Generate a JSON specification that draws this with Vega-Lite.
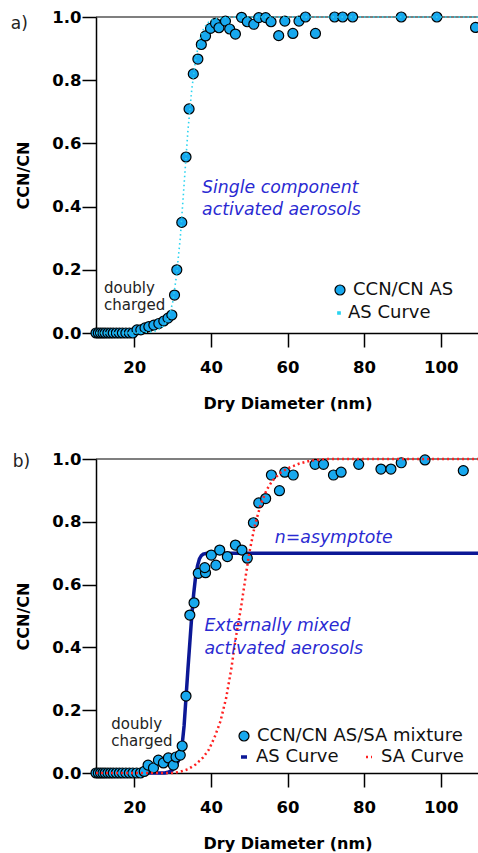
{
  "$schema": "https://vega.github.io/schema/vega-lite/v6.json",
  "background": "white",
  "padding": {"left": 10, "top": 9, "right": 0, "bottom": 0},
  "spacing": 126,
  "bounds": "flush",
  "resolve": {
    "scale": {"fill": "independent", "stroke": "independent"},
    "legend": {"fill": "independent", "stroke": "independent"}
  },
  "config": {
    "view": {"stroke": null},
    "font": "DejaVu Sans",
    "axis": {
      "grid": false,
      "labelFont": "DejaVu Sans",
      "labelFontSize": 16.5,
      "labelFontWeight": "bold",
      "labelColor": "#000",
      "titleFont": "DejaVu Sans",
      "titleFontSize": 16,
      "titleFontWeight": "bold",
      "titleColor": "#000",
      "domainColor": "#000",
      "domainWidth": 1.5,
      "tickColor": "#000",
      "tickWidth": 1.5,
      "tickSize": 14
    },
    "legend": {
      "orient": "none",
      "title": null,
      "padding": 0,
      "labelFont": "DejaVu Sans",
      "labelFontSize": 18,
      "labelColor": "#111",
      "labelLimit": 400
    }
  },
  "datasets": {
    "pointsA": [
      {"diam": 10, "ratio": 0}, {"diam": 10.6, "ratio": 0}, {"diam": 11.2, "ratio": 0}, {"diam": 11.8, "ratio": 0},
      {"diam": 12.4, "ratio": 0}, {"diam": 13.1, "ratio": 0}, {"diam": 13.8, "ratio": 0}, {"diam": 14.5, "ratio": 0},
      {"diam": 15.3, "ratio": 0}, {"diam": 16.1, "ratio": 0}, {"diam": 16.9, "ratio": 0}, {"diam": 17.8, "ratio": 0},
      {"diam": 18.7, "ratio": 0}, {"diam": 19.6, "ratio": 0}, {"diam": 20.7, "ratio": 0.01}, {"diam": 21.7, "ratio": 0.01},
      {"diam": 22.8, "ratio": 0.016}, {"diam": 23.8, "ratio": 0.02}, {"diam": 25.1, "ratio": 0.025}, {"diam": 26.4, "ratio": 0.03},
      {"diam": 27.7, "ratio": 0.038}, {"diam": 28.8, "ratio": 0.047}, {"diam": 29.8, "ratio": 0.057}, {"diam": 30.5, "ratio": 0.12},
      {"diam": 31.1, "ratio": 0.2}, {"diam": 32.4, "ratio": 0.35}, {"diam": 33.5, "ratio": 0.557}, {"diam": 34.3, "ratio": 0.709},
      {"diam": 35.4, "ratio": 0.82}, {"diam": 36.6, "ratio": 0.867}, {"diam": 37.5, "ratio": 0.913}, {"diam": 38.6, "ratio": 0.94},
      {"diam": 39.9, "ratio": 0.964}, {"diam": 41.2, "ratio": 0.98}, {"diam": 42.1, "ratio": 0.966}, {"diam": 43.8, "ratio": 0.987},
      {"diam": 44.9, "ratio": 0.962}, {"diam": 46.4, "ratio": 0.946}, {"diam": 48.0, "ratio": 0.999}, {"diam": 49.5, "ratio": 0.985},
      {"diam": 51.2, "ratio": 0.977}, {"diam": 52.5, "ratio": 0.998}, {"diam": 54.3, "ratio": 0.998}, {"diam": 55.7, "ratio": 0.985},
      {"diam": 57.7, "ratio": 0.941}, {"diam": 59.3, "ratio": 0.987}, {"diam": 61.4, "ratio": 0.948}, {"diam": 63.0, "ratio": 0.987},
      {"diam": 64.7, "ratio": 1.0}, {"diam": 67.3, "ratio": 0.948}, {"diam": 72.3, "ratio": 1.0}, {"diam": 74.4, "ratio": 1.0},
      {"diam": 77.0, "ratio": 1.0}, {"diam": 89.7, "ratio": 1.0}, {"diam": 99.0, "ratio": 1.0}, {"diam": 109.1, "ratio": 0.967}
    ],
    "curveA": [
      {"diam": 10, "ratio": 0}, {"diam": 20, "ratio": 0}, {"diam": 25, "ratio": 0.004}, {"diam": 27, "ratio": 0.015},
      {"diam": 28, "ratio": 0.028}, {"diam": 29, "ratio": 0.05}, {"diam": 30, "ratio": 0.095}, {"diam": 31, "ratio": 0.18},
      {"diam": 32, "ratio": 0.3}, {"diam": 33, "ratio": 0.47}, {"diam": 34, "ratio": 0.64}, {"diam": 35, "ratio": 0.77},
      {"diam": 36, "ratio": 0.865}, {"diam": 37, "ratio": 0.925}, {"diam": 38, "ratio": 0.96}, {"diam": 39, "ratio": 0.98},
      {"diam": 40, "ratio": 0.99}, {"diam": 42, "ratio": 0.997}, {"diam": 45, "ratio": 1}, {"diam": 110, "ratio": 1}
    ],
    "pointsB": [
      {"diam": 10, "ratio": 0}, {"diam": 10.6, "ratio": 0}, {"diam": 11.2, "ratio": 0}, {"diam": 11.8, "ratio": 0},
      {"diam": 12.4, "ratio": 0}, {"diam": 13.1, "ratio": 0}, {"diam": 13.8, "ratio": 0}, {"diam": 14.5, "ratio": 0},
      {"diam": 15.3, "ratio": 0}, {"diam": 16.1, "ratio": 0}, {"diam": 16.9, "ratio": 0}, {"diam": 17.8, "ratio": 0},
      {"diam": 18.7, "ratio": 0}, {"diam": 19.6, "ratio": 0}, {"diam": 20.6, "ratio": 0}, {"diam": 21.6, "ratio": 0},
      {"diam": 22.6, "ratio": 0.005}, {"diam": 23.6, "ratio": 0.025}, {"diam": 25.0, "ratio": 0.016}, {"diam": 26.3, "ratio": 0.041},
      {"diam": 27.6, "ratio": 0.032}, {"diam": 28.9, "ratio": 0.048}, {"diam": 30.2, "ratio": 0.025}, {"diam": 30.9, "ratio": 0.051},
      {"diam": 32.0, "ratio": 0.057}, {"diam": 32.5, "ratio": 0.086}, {"diam": 33.5, "ratio": 0.245}, {"diam": 34.5, "ratio": 0.503},
      {"diam": 35.6, "ratio": 0.542}, {"diam": 36.7, "ratio": 0.636}, {"diam": 38.6, "ratio": 0.638}, {"diam": 38.4, "ratio": 0.654},
      {"diam": 40.1, "ratio": 0.694}, {"diam": 41.3, "ratio": 0.662}, {"diam": 42.3, "ratio": 0.71}, {"diam": 44.3, "ratio": 0.689},
      {"diam": 46.4, "ratio": 0.726}, {"diam": 48.1, "ratio": 0.71}, {"diam": 49.5, "ratio": 0.684}, {"diam": 51.1, "ratio": 0.797},
      {"diam": 52.5, "ratio": 0.86}, {"diam": 54.3, "ratio": 0.874}, {"diam": 55.8, "ratio": 0.949}, {"diam": 57.9, "ratio": 0.899},
      {"diam": 59.3, "ratio": 0.958}, {"diam": 61.5, "ratio": 0.949}, {"diam": 67.2, "ratio": 0.983}, {"diam": 69.4, "ratio": 0.983},
      {"diam": 72.0, "ratio": 0.949}, {"diam": 74.0, "ratio": 0.958}, {"diam": 78.6, "ratio": 0.983}, {"diam": 84.4, "ratio": 0.968},
      {"diam": 87.0, "ratio": 0.968}, {"diam": 89.7, "ratio": 0.988}, {"diam": 95.9, "ratio": 0.997}, {"diam": 105.9, "ratio": 0.963}
    ],
    "curveAS_B": [
      {"diam": 10, "ratio": 0}, {"diam": 28, "ratio": 0}, {"diam": 29, "ratio": 0.003}, {"diam": 30, "ratio": 0.01},
      {"diam": 31, "ratio": 0.025}, {"diam": 32, "ratio": 0.055}, {"diam": 32.5, "ratio": 0.09}, {"diam": 33, "ratio": 0.15},
      {"diam": 33.5, "ratio": 0.24}, {"diam": 34, "ratio": 0.33}, {"diam": 34.5, "ratio": 0.415}, {"diam": 35, "ratio": 0.5},
      {"diam": 35.5, "ratio": 0.57}, {"diam": 36, "ratio": 0.625}, {"diam": 36.5, "ratio": 0.66}, {"diam": 37, "ratio": 0.682},
      {"diam": 37.5, "ratio": 0.692}, {"diam": 38, "ratio": 0.697}, {"diam": 39, "ratio": 0.7}, {"diam": 110, "ratio": 0.7}
    ],
    "curveSA_B": [
      {"diam": 10, "ratio": 0}, {"diam": 30, "ratio": 0}, {"diam": 32, "ratio": 0.004}, {"diam": 34, "ratio": 0.012},
      {"diam": 36, "ratio": 0.027}, {"diam": 38, "ratio": 0.05}, {"diam": 39.5, "ratio": 0.075}, {"diam": 41, "ratio": 0.115},
      {"diam": 42.5, "ratio": 0.165}, {"diam": 44, "ratio": 0.24}, {"diam": 45.3, "ratio": 0.33}, {"diam": 46.5, "ratio": 0.43},
      {"diam": 47.9, "ratio": 0.53}, {"diam": 49, "ratio": 0.62}, {"diam": 50, "ratio": 0.7}, {"diam": 51.5, "ratio": 0.79},
      {"diam": 53, "ratio": 0.855}, {"diam": 54.5, "ratio": 0.9}, {"diam": 56, "ratio": 0.93}, {"diam": 58, "ratio": 0.955},
      {"diam": 60, "ratio": 0.97}, {"diam": 63, "ratio": 0.985}, {"diam": 66, "ratio": 0.995}, {"diam": 70, "ratio": 1},
      {"diam": 110, "ratio": 1}
    ],
    "unity": [{"diam": 10, "ratio": 1}, {"diam": 110, "ratio": 1}],
    "blueA": [
      {"diam": 37.7, "ratio": 0.443, "text": "Single component"},
      {"diam": 37.7, "ratio": 0.372, "text": "activated aerosols"}
    ],
    "grayA": [
      {"diam": 12.1, "ratio": 0.127, "text": "doubly"},
      {"diam": 12.1, "ratio": 0.073, "text": "charged"}
    ],
    "blueB": [
      {"diam": 38.3, "ratio": 0.452, "text": "Externally mixed"},
      {"diam": 38.3, "ratio": 0.379, "text": "activated aerosols"},
      {"diam": 56.7, "ratio": 0.732, "text": "n=asymptote"}
    ],
    "grayB": [
      {"diam": 14.0, "ratio": 0.14, "text": "doubly"},
      {"diam": 14.0, "ratio": 0.086, "text": "charged"}
    ]
  },
  "vconcat": [
    {
      "width": 383,
      "height": 316,
      "title": {"text": "a)", "anchor": "start", "frame": "bounds", "font": "DejaVu Sans", "fontSize": 17, "fontWeight": "normal", "color": "#222", "baseline": "middle", "offset": 0, "dx": -5, "dy": 32},
      "encoding": {
        "x": {"field": "diam", "type": "quantitative", "scale": {"domain": [10, 110], "nice": false, "zero": false},
              "axis": {"values": [20, 40, 60, 80, 100], "title": "Dry Diameter (nm)", "labelPadding": 12, "titlePadding": 20}},
        "y": {"field": "ratio", "type": "quantitative", "scale": {"domain": [0, 1], "nice": false},
              "axis": {"values": [0, 0.2, 0.4, 0.6, 0.8, 1], "format": ".1f", "title": "CCN/CN", "labelPadding": 1, "titlePadding": 20}}
      },
      "layer": [
        {"data": {"name": "unity"}, "mark": {"type": "line", "color": "#000", "strokeWidth": 1.2}},
        {
          "data": {"name": "pointsA"},
          "transform": [{"calculate": "'CCN/CN AS'", "as": "series"}],
          "mark": {"type": "circle", "size": 100, "stroke": "#000", "strokeWidth": 1.2, "opacity": 1},
          "encoding": {
            "fill": {"field": "series", "type": "nominal", "scale": {"range": ["#18a8ee"]},
                     "legend": {"legendX": 235, "legendY": 264, "symbolType": "circle", "symbolSize": 100, "symbolStrokeColor": "#000", "symbolStrokeWidth": 1.2, "symbolOpacity": 1, "labelOffset": 4}}
          }
        },
        {
          "data": {"name": "curveA"},
          "transform": [{"calculate": "'AS Curve'", "as": "curve"}],
          "mark": {"type": "line", "strokeWidth": 1.6, "strokeDash": [1.5, 3]},
          "encoding": {
            "stroke": {"field": "curve", "type": "nominal", "scale": {"range": ["#2ad4f0"]},
                       "legend": {"legendX": 234, "legendY": 287, "symbolType": "square", "symbolSize": 5, "labelOffset": 0,
                                  "encode": {"symbols": {"update": {"fill": {"value": "#2ad4f0"}, "stroke": {"value": "transparent"}}}}}}
          }
        },
        {
          "data": {"name": "blueA"},
          "mark": {"type": "text", "align": "left", "baseline": "alphabetic", "font": "DejaVu Sans", "fontSize": 17.3, "fontStyle": "italic", "color": "#2a2ad2"},
          "encoding": {"text": {"field": "text"}}
        },
        {
          "data": {"name": "grayA"},
          "mark": {"type": "text", "align": "left", "baseline": "alphabetic", "font": "DejaVu Sans", "fontSize": 15, "color": "#222"},
          "encoding": {"text": {"field": "text"}}
        }
      ]
    },
    {
      "width": 383,
      "height": 314,
      "title": {"text": "b)", "anchor": "start", "frame": "bounds", "font": "DejaVu Sans", "fontSize": 17, "fontWeight": "normal", "color": "#222", "baseline": "middle", "offset": 0, "dx": -3, "dy": 28},
      "encoding": {
        "x": {"field": "diam", "type": "quantitative", "scale": {"domain": [10, 110], "nice": false, "zero": false},
              "axis": {"values": [20, 40, 60, 80, 100], "title": "Dry Diameter (nm)", "labelPadding": 12, "titlePadding": 20}},
        "y": {"field": "ratio", "type": "quantitative", "scale": {"domain": [0, 1], "nice": false},
              "axis": {"values": [0, 0.2, 0.4, 0.6, 0.8, 1], "format": ".1f", "title": "CCN/CN", "labelPadding": 1, "titlePadding": 20}}
      },
      "layer": [
        {"data": {"name": "unity"}, "mark": {"type": "line", "color": "#000", "strokeWidth": 1.2}},
        {
          "data": {"name": "curveAS_B"},
          "transform": [{"calculate": "'AS Curve'", "as": "curve"}],
          "mark": {"type": "line", "strokeWidth": 3.5},
          "encoding": {
            "stroke": {"field": "curve", "type": "nominal",
                       "scale": {"domain": ["AS Curve", "SA Curve"], "range": ["#0c1896", "#ff2020"]},
                       "legend": {"legendX": 139, "legendY": 289, "direction": "horizontal", "symbolType": "stroke", "symbolSize": 36,
                                  "labelOffset": 3, "columnPadding": 21,
                                  "encode": {"symbols": {"update": {
                                    "strokeWidth": {"signal": "datum.value === 'AS Curve' ? 3.5 : 2.5"},
                                    "strokeDash": {"signal": "datum.value === 'AS Curve' ? [1, 0] : [2, 3]"}}}}}}
          }
        },
        {
          "data": {"name": "pointsB"},
          "transform": [{"calculate": "'CCN/CN AS/SA mixture'", "as": "series"}],
          "mark": {"type": "circle", "size": 100, "stroke": "#000", "strokeWidth": 1.2, "opacity": 1},
          "encoding": {
            "fill": {"field": "series", "type": "nominal", "scale": {"range": ["#18a8ee"]},
                     "legend": {"legendX": 139, "legendY": 268, "symbolType": "circle", "symbolSize": 100, "symbolStrokeColor": "#000", "symbolStrokeWidth": 1.2, "symbolOpacity": 1, "labelOffset": 4}}
          }
        },
        {
          "data": {"name": "curveSA_B"},
          "transform": [{"calculate": "'SA Curve'", "as": "curve"}],
          "mark": {"type": "line", "strokeWidth": 2.5, "strokeDash": [2, 3]},
          "encoding": {"stroke": {"field": "curve", "type": "nominal"}}
        },
        {
          "data": {"name": "blueB"},
          "mark": {"type": "text", "align": "left", "baseline": "alphabetic", "font": "DejaVu Sans", "fontSize": 17.3, "fontStyle": "italic", "color": "#2a2ad2"},
          "encoding": {"text": {"field": "text"}}
        },
        {
          "data": {"name": "grayB"},
          "mark": {"type": "text", "align": "left", "baseline": "alphabetic", "font": "DejaVu Sans", "fontSize": 15, "color": "#222"},
          "encoding": {"text": {"field": "text"}}
        }
      ]
    }
  ]
}
